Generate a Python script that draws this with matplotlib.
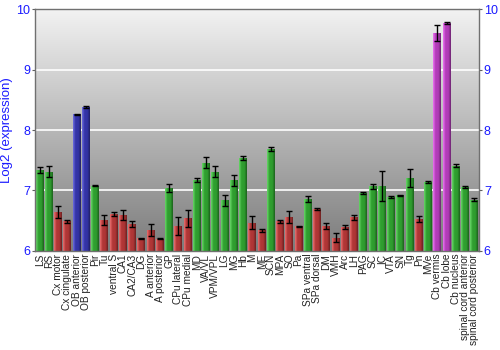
import numpy as np
import matplotlib
matplotlib.use("Agg")
import matplotlib.pyplot as plt
from matplotlib.colors import LinearSegmentedColormap, to_rgb

categories = ["LS", "RS", "Cx motor", "Cx cingulate", "OB anterior", "OB posterior", "Pir", "Tu",
              "ventral S", "CA1", "CA2/CA3", "DG", "A anterior", "A posterior", "GP", "CPu lateral",
              "CPu medial", "MD", "VA/VL", "VPM/VPL", "LG", "MG", "Hb", "M", "ME", "SCN", "MPA", "SO",
              "Pa", "SPa ventral", "SPa dorsal", "DM", "VMH", "Arc", "LH", "PAG", "SC", "IC", "VTA",
              "SN", "Tg", "Pn", "MVe", "Cb vermis", "Cb lobe", "Cb nucleus", "spinal cord anterior",
              "spinal cord posterior"]
values = [7.34, 7.31, 6.64, 6.49, 8.26, 8.38, 7.08, 6.51,
          6.61, 6.60, 6.45, 6.21, 6.34, 6.20, 7.04, 6.41,
          6.54, 7.17, 7.46, 7.31, 6.84, 7.17, 7.54, 6.47, 6.34, 7.69, 6.49, 6.56,
          6.41, 6.86, 6.69, 6.41, 6.22, 6.40, 6.56, 6.96, 7.07, 7.08, 6.89,
          6.92, 7.21, 6.53, 7.14, 9.60, 9.77, 7.41, 7.06, 6.85]
errors = [0.05, 0.09, 0.10, 0.02, 0.01, 0.01, 0.01, 0.08,
          0.03, 0.08, 0.05, 0.01, 0.10, 0.01, 0.07, 0.15,
          0.14, 0.03, 0.09, 0.09, 0.09, 0.09, 0.03, 0.10, 0.03, 0.03, 0.03, 0.10,
          0.01, 0.05, 0.02, 0.05, 0.08, 0.03, 0.04, 0.01, 0.04, 0.25, 0.02,
          0.01, 0.15, 0.05, 0.01, 0.13, 0.02, 0.02, 0.02, 0.03]
groups = ["g", "g", "r", "r", "b", "b", "g", "r",
          "r", "r", "r", "r", "r", "r", "g", "r",
          "r", "g", "g", "g", "g", "g", "g", "r", "r", "g", "r", "r",
          "r", "g", "r", "r", "r", "r", "r", "g", "g", "g", "g",
          "g", "g", "r", "g", "p", "p", "g", "g", "g"]

palette = {"g": "#2f9e2f", "r": "#b03636", "b": "#3434a6", "p": "#b23cb8"}

plt.rcParams['font.family'] = ['Liberation Sans', 'DejaVu Sans']
fig = plt.figure(figsize=(5, 3.5), dpi=100)
ax = fig.add_axes([0.07, 0.283, 0.888, 0.691])

ymin, ymax = 6, 10
n = len(categories)
x = np.arange(n)

# background gradient (light at top, darker at bottom)
bg = np.linspace(0, 1, 256).reshape(-1, 1)
bg_cmap = LinearSegmentedColormap.from_list("bg", ["#f2f2f2", "#7c7c7c"])
ax.imshow(bg, extent=[-0.5, n - 0.5, ymin, ymax], aspect="auto", cmap=bg_cmap,
          zorder=0, origin="upper")

for yv in [7, 8, 9]:
    ax.axhline(yv, color="white", lw=1.2, zorder=1)

width = 0.86
vals = np.array(values)
bars = ax.bar(x, vals - ymin, bottom=ymin, width=width, color="none", edgecolor="none", zorder=2)
grad = np.linspace(0, 1, 32).reshape(1, -1)
for b, g in zip(bars, groups):
    base = np.array(to_rgb(palette[g]))
    light = np.clip(base + 0.22, 0, 1)
    dark = base * 0.62
    cm = LinearSegmentedColormap.from_list("b", [light, base, base, dark])
    x0 = b.get_x()
    im = ax.imshow(grad, extent=[x0, x0 + b.get_width(), ymin, ymin + b.get_height()],
                   aspect="auto", cmap=cm, zorder=2)
    im.set_clip_path(b)

ax.errorbar(x, vals, yerr=errors, fmt="none", ecolor="black", elinewidth=1,
            capsize=2, capthick=1, zorder=3)

ax.set_xlim(-0.5, n - 0.5)
ax.set_ylim(ymin, ymax)
ax.set_yticks([6, 7, 8, 9, 10])
ax.set_xticks(x)
ax.set_xticklabels(categories, rotation=90, fontsize=7.3, color="#222222")
ax.tick_params(axis="x", length=0, pad=2)
ax.tick_params(axis="y", colors="#606060", labelcolor="#1a1aff", labelsize=9,
               length=2, pad=1.5, right=True, labelright=True, direction="out")
ax.set_ylabel("Log2 (expression)", color="#1a1aff", fontsize=9.5, labelpad=2)
for s in ax.spines.values():
    s.set_color("#707070")
    s.set_linewidth(1)

fig.savefig("out.png", dpi=100)
